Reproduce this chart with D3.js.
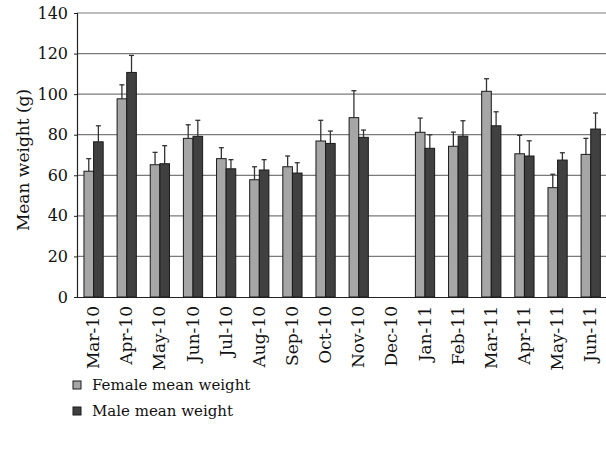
<!DOCTYPE html>
<html><head><meta charset="utf-8">
<script src="https://cdn.jsdelivr.net/npm/d3@7"></script>
<style>body{margin:0;background:#fff}svg{display:block}</style>
</head><body>
<svg id="c" width="606" height="454"></svg>
<script>
const months = ["Mar-10","Apr-10","May-10","Jun-10","Jul-10","Aug-10","Sep-10","Oct-10","Nov-10","Dec-10","Jan-11","Feb-11","Mar-11","Apr-11","May-11","Jun-11"];
const femaleMean = [62,97.7,65.2,78.2,68.2,57.8,64.2,76.9,88.4,null,81.2,74.3,101.4,70.6,53.9,70.3];
const femaleErr  = [6.2,6.9,6.1,6.7,5.4,6.4,5.3,10.2,13.3,null,7,7,6.2,9.1,6.6,7.9];
const maleMean   = [76.5,110.7,65.7,79.2,63.2,62.6,61.1,75.7,78.7,null,73.3,79.3,84.4,69.5,67.5,82.8];
const maleErr    = [7.9,8.4,8.9,7.9,4.5,5.1,5.1,6.1,3.6,null,6.7,7.6,6.9,7.5,3.6,7.9];
const yTicks = [0,20,40,60,80,100,120,140];
const seriesNames = ["Female mean weight","Male mean weight"];
const colors = ["#a6a6a6","#404040"];

const FONT = "DejaVu Serif";
const svg = d3.select("#c");
const L = 77, T = 13, B = 297, R = 607.3;
const x = d3.scaleBand().domain(months).range([L, R]).paddingInner(0.42).paddingOuter(0.21);
const xs = d3.scaleBand().domain([0,1]).range([0, x.bandwidth()]);
const y = d3.scaleLinear().domain([0,140]).range([B, T]);

svg.append("g").selectAll("line").data(yTicks.filter(d=>d>0)).join("line")
  .attr("x1", L).attr("x2", 606).attr("y1", d=>y(d)).attr("y2", d=>y(d))
  .attr("stroke", "#7a7a7a").attr("stroke-width", 1.2);

const ya = svg.append("g").attr("transform", `translate(${L},0)`)
  .call(d3.axisLeft(y).tickValues(yTicks).tickSize(3).tickPadding(6));
ya.attr("font-family", FONT).attr("font-size", 16);
ya.select(".domain").attr("stroke","#222").attr("stroke-width",1.2);
ya.selectAll(".tick line").attr("stroke","#222");
ya.selectAll("text").attr("fill","#111");

const xa = svg.append("g").attr("transform", `translate(0,${B})`)
  .call(d3.axisBottom(x).tickSize(0).tickPadding(8));
xa.attr("font-family", FONT).attr("font-size", 17);
xa.select(".domain").attr("stroke","#222").attr("stroke-width",1.2);
xa.selectAll("text").attr("fill","#111")
  .attr("transform","rotate(-90)").attr("text-anchor","end")
  .attr("x", -9).attr("y", 0).attr("dy","0.33em");

const series = [femaleMean, maleMean];
const errs = [femaleErr, maleErr];
series.forEach((vals, si) => {
  const data = months.map((m,i)=>({m, v: vals[i], e: errs[si][i]})).filter(d=>d.v!=null);
  const g = svg.append("g");
  const cx = d => x(d.m)+xs(si)+xs.bandwidth()/2;
  g.selectAll("line.e").data(data).join("line")
    .attr("x1", cx).attr("x2", cx)
    .attr("y1", d=>y(d.v)).attr("y2", d=>y(d.v+d.e)).attr("stroke","#333").attr("stroke-width",1.3);
  g.selectAll("line.c").data(data).join("line")
    .attr("x1", d=>cx(d)-2.5).attr("x2", d=>cx(d)+2.5)
    .attr("y1", d=>y(d.v+d.e)).attr("y2", d=>y(d.v+d.e)).attr("stroke","#333").attr("stroke-width",1.3);
  g.selectAll("rect").data(data).join("rect")
    .attr("x", d=>x(d.m)+xs(si)).attr("width", xs.bandwidth())
    .attr("y", d=>y(d.v)).attr("height", d=>B-y(d.v))
    .attr("fill", colors[si]).attr("stroke","#1a1a1a").attr("stroke-width",1);
});

svg.append("text").attr("transform",`translate(23,160) rotate(-90)`)
  .attr("text-anchor","middle").attr("dy","0.33em")
  .attr("font-family",FONT).attr("font-size",17).attr("fill","#111").text("Mean weight (g)");

const lg = svg.append("g");
seriesNames.forEach((n,i)=>{
  const yy = 385 + i*26;
  lg.append("rect").attr("x",73).attr("y",yy-4).attr("width",8).attr("height",8)
    .attr("fill",colors[i]).attr("stroke","#1a1a1a").attr("stroke-width",1);
  lg.append("text").attr("x",92).attr("y",yy).attr("dy","0.33em")
    .attr("font-family",FONT).attr("font-size",15).attr("fill","#111").text(n);
});
</script>
</body></html>
